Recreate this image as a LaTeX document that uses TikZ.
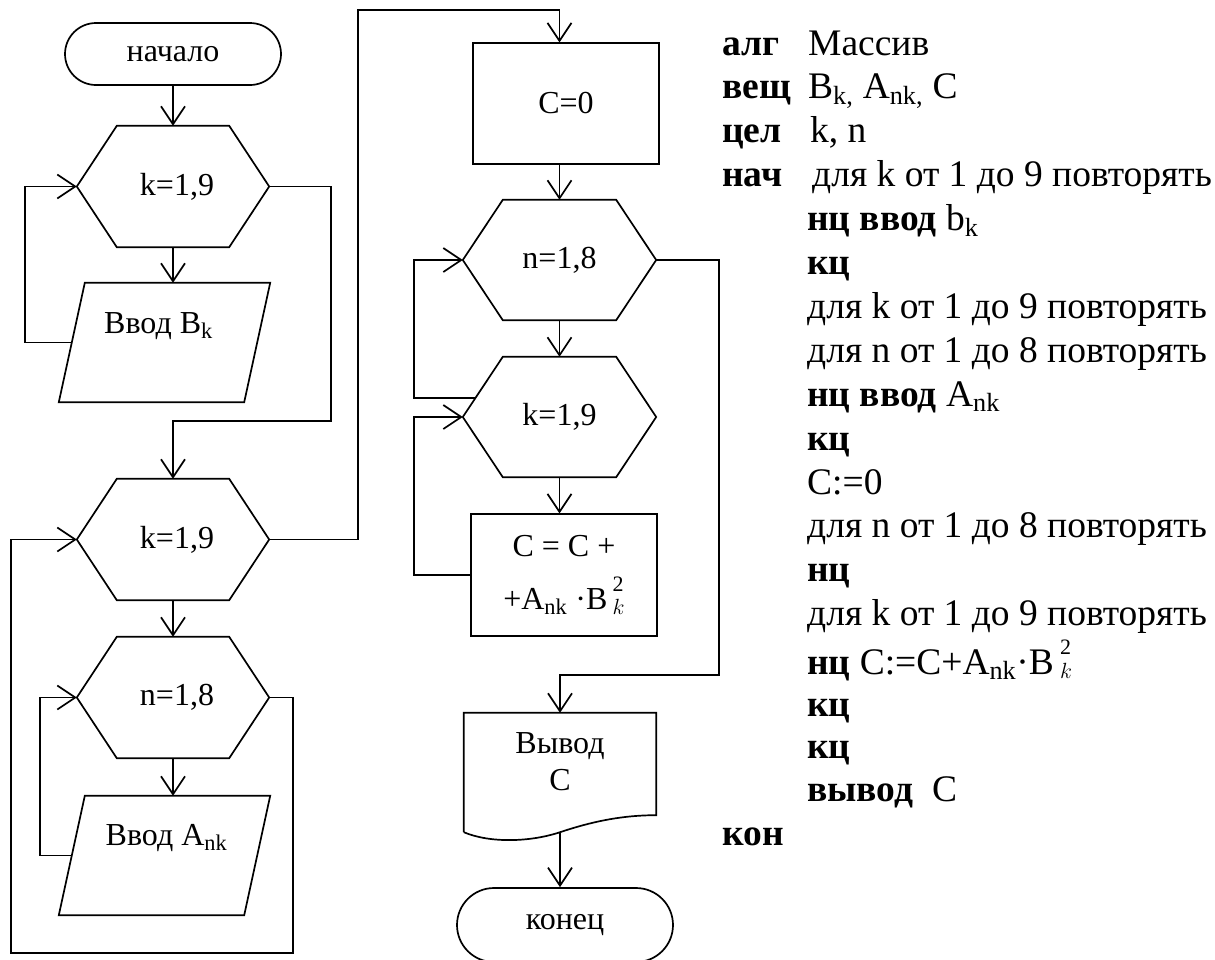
\documentclass[tikz,border=0pt]{standalone}
\usepackage{fix-cm}
\usepackage{fontspec}
\setmainfont{Liberation Serif}
\usetikzlibrary{arrows.meta,shapes.misc}

\newcommand\flfont{\fontsize{32pt}{37pt}\selectfont}
\newcommand\algfont{\fontsize{37.5pt}{44pt}\selectfont}
% B with stacked script: #1 raise of the 2, #2 drop of the k, #3 script size
\newcommand\bsq[3]{B\,\rlap{\raisebox{#1}{\fontsize{#3}{#3}\selectfont 2}}%
  \raisebox{-#2}{\fontsize{#3}{#3}\selectfont$k$}}

% hexagon (loop header) outline around a plain rectangular node
\newcommand\hexoutline[1]{%
  \draw[line] (#1.west) -- ([xshift=40pt]#1.north west) -- ([xshift=-40pt]#1.north east)
    -- (#1.east) -- ([xshift=-40pt]#1.south east) -- ([xshift=40pt]#1.south west) -- cycle;}
% parallelogram (input) outline around a plain rectangular node
\newcommand\paroutline[1]{%
  \draw[line] ([xshift=26pt]#1.north west) -- (#1.north east)
    -- ([xshift=-26pt]#1.south east) -- (#1.south west) -- cycle;}

\tikzset{
  line/.style={line width=1.7pt, line join=miter},
  arr/.style={line width=1.7pt, -{Straight Barb[length=18pt,width=24pt]}},
  frame/.style={draw=none, inner sep=0pt, font=\flfont, align=center},
  hexa/.style={frame, minimum width=192pt, minimum height=121pt},
  para/.style={frame, minimum width=211pt, minimum height=119pt},
  term/.style={rounded rectangle, draw, line width=1.7pt, inner sep=0pt,
               minimum width=216pt, font=\flfont},
  procbox/.style={rectangle, draw, line width=1.2pt, inner sep=0pt,
                  minimum width=186pt, font=\flfont, align=center},
  txt/.style={anchor=base west, inner sep=0pt, font=\algfont},
}

\begin{document}
\begin{tikzpicture}[x=1pt,y=-1pt]
\useasboundingbox (0,0) rectangle (1215,959);
\clip (0,0) rectangle (1215,959);

% ---------- left column: input of B and A ----------
\node[term, minimum height=62pt] (start) at (173,54) {начало};
\node[hexa] (h1) at (173,186.5) {\hspace*{8pt}k=1,9};
\node[para, label={[font=\flfont, xshift=-6pt, yshift=16pt]center:{Ввод B\textsubscript{k}}}] (p1) at (164.5,342.5) {};
\node[hexa] (h2) at (173,539.5) {\hspace*{8pt}k=1,9};
\node[hexa] (h3) at (173,697.5) {\hspace*{8pt}n=1,8};
\node[para, label={[font=\flfont, xshift=2pt, yshift=17pt]center:{Ввод A\textsubscript{nk}}}] (p2) at (164.5,855.5) {};
\hexoutline{h1}\hexoutline{h2}\hexoutline{h3}
\paroutline{p1}\paroutline{p2}

\coordinate (lx1) at (25,186.5);
\coordinate (r1)  at (331,421);
\coordinate (lx3) at (40,697.5);
\coordinate (r3)  at (293,953);
\coordinate (l3)  at (11,953);
\coordinate (r2)  at (358,10);

\draw[arr] (start) -- (h1);
\draw[arr] (h1.south) -- (h1.south |- p1.north);
\draw[arr] ([xshift=13pt]p1.west) -| (lx1) -- (h1.west);
\draw[arr] (h1.east) -| (r1) -| (h2.north);
\draw[arr] (h2) -- (h3);
\draw[arr] (h3.south) -- (h3.south |- p2.north);
\draw[arr] ([xshift=13pt]p2.west) -| (lx3) -- (h3.west);
\draw[arr] (h3.east) -| (r3) -- (l3) |- (h2.west);

% ---------- middle column: computing C ----------
\node[procbox, minimum height=121pt] (c0) at (566,103.5) {C=0};
\node[hexa, minimum width=193pt, minimum height=120pt] (h4) at (559.5,260) {n=1,8};
\node[hexa, minimum width=193pt, minimum height=120pt] (h5) at (559.5,417) {k=1,9};
\node[procbox, minimum height=122pt, font={\fontsize{32pt}{53pt}\selectfont}] (sum) at (564,575)
  {C = C +\\+A\textsubscript{nk} ·\bsq{18pt}{5pt}{22pt}};
\node[frame, minimum width=192pt, minimum height=119pt,
      label={[font=\flfont, align=center, yshift=11pt]center:{Вывод\\C}}] (doc) at (560,772.5) {};
\node[term, minimum height=74pt] (end) at (565,925) {конец};
\hexoutline{h4}\hexoutline{h5}
\draw[line] (doc.south west) -- (doc.north west) -- (doc.north east) -- ([yshift=17pt]doc.south east)
  .. controls ([xshift=-36pt,yshift=17pt]doc.south east) and ([xshift=30pt,yshift=10pt]doc.south) .. (doc.south)
  .. controls ([xshift=-30pt,yshift=-10pt]doc.south) and ([xshift=26pt,yshift=-11pt]doc.south west) .. (doc.south west);

\coordinate (h5ul) at ([xshift=12.7pt,yshift=19pt]h5.west);
\coordinate (lx4) at (414,260);
\coordinate (lx5) at (414,417);
\coordinate (r4)  at (719,675);

\draw[arr] (h2.east) -| (r2) -| (h4.north |- c0.north);
\draw[arr] (h4.north |- c0.south) -- (h4.north);
\draw[arr] (h4) -- (h5);
\draw[arr] (h5ul) -| (lx4) -- (h4.west);
\draw[arr] (sum.west) -| (lx5) -- (h5.west);
\draw[arr] (h5.south) -- (h5.south |- sum.north);
\draw[arr] (h4.east) -| (r4) -| (doc.north);
\draw[arr] (doc.south) -- (doc.south |- end.north);

% ---------- right column: algorithm text ----------
\node[txt] (kw0)  at (722,55)    {\textbf{алг}};
\node[txt] (ln0)  at (808,55)    {Массив};
\node[txt] (kw1)  at (722,98.9)  {\textbf{вещ}};
\node[txt] (ln1)  at (808,98.9)  {B\textsubscript{k,} A\textsubscript{nk,} C};
\node[txt] (kw2)  at (722,142.8) {\textbf{цел}};
\node[txt] (ln2)  at (810,142.8) {k, n};
\node[txt] (kw3)  at (722,186.7) {\textbf{нач}};
\node[txt] (ln3)  at (812,186.7) {для k от 1 до 9 повторять};
\node[txt] (ln4)  at (807,230.6) {\textbf{нц ввод} b\textsubscript{k}};
\node[txt] (ln5)  at (807,274.5) {\textbf{кц}};
\node[txt] (ln6)  at (807,318.4) {для k от 1 до 9 повторять};
\node[txt] (ln7)  at (807,362.3) {для n от 1 до 8 повторять};
\node[txt] (ln8)  at (807,406.2) {\textbf{нц ввод} A\textsubscript{nk}};
\node[txt] (ln9)  at (807,450.1) {\textbf{кц}};
\node[txt] (ln10) at (807,494)   {C:=0};
\node[txt] (ln11) at (807,537.9) {для n от 1 до 8 повторять};
\node[txt] (ln12) at (807,581.8) {\textbf{нц}};
\node[txt] (ln13) at (807,625.7) {для k от 1 до 9 повторять};
\node[txt] (ln14) at (807,674)   {\textbf{нц} C:=C+A\textsubscript{nk}·\bsq{20pt}{4pt}{22pt}};
\node[txt] (ln15) at (807,716)   {\textbf{кц}};
\node[txt] (ln16) at (807,758)   {\textbf{кц}};
\node[txt] (ln17) at (807,801.3) {\textbf{вывод}\ \ C};
\node[txt] (kw18) at (722,845.2) {\textbf{кон}};
\end{tikzpicture}
\end{document}
